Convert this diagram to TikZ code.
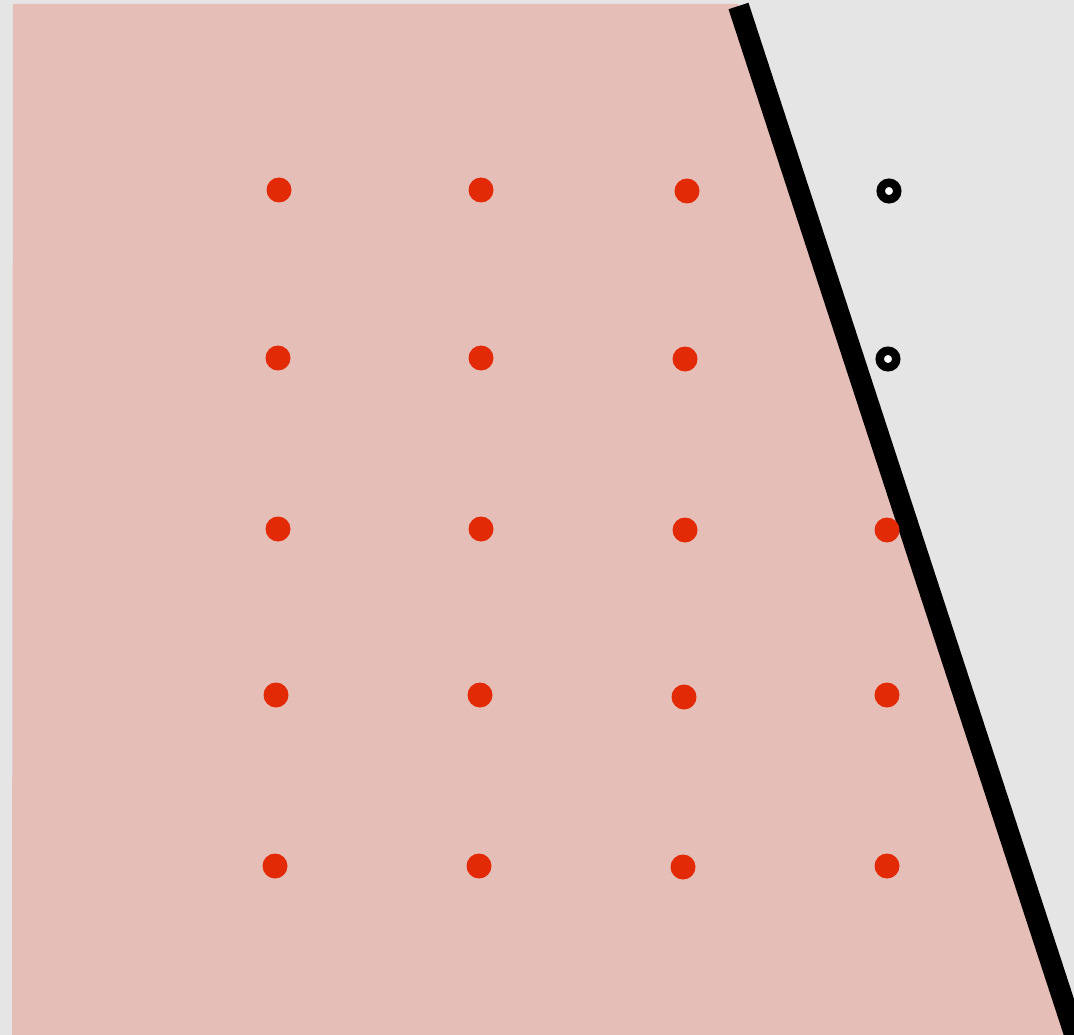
\documentclass[tikz,border=0pt]{standalone}
\definecolor{bgc}{HTML}{E5E5E5}
\definecolor{pinkc}{HTML}{E6BEB8}
\definecolor{dotc}{HTML}{E32A06}
\tikzset{
  reddot/.style={circle,fill=dotc,inner sep=0pt,minimum size=25pt},
  ring/.style={circle,draw=black,line width=8.5pt,fill=white,inner sep=0pt,minimum size=16.5pt}
}
\begin{document}
\begin{tikzpicture}[x=1pt,y=-1pt]
\fill[bgc] (0,0) rectangle (1074,1035);
\useasboundingbox (0,0) rectangle (1074,1035);
\coordinate (tl) at (13,4);
\coordinate (tr) at (738,4);
\coordinate (br) at (1075,1035);
\coordinate (bl) at (12,1035);
\fill[pinkc] (tl) -- (tr) -- (br) -- (bl) -- cycle;
\coordinate (lt) at (738.5,6);
\coordinate (lb) at (1078,1045);
\draw[line width=21pt] (lt) -- (lb);
\node[reddot] (d11) at (279,190) {};
\node[reddot] (d12) at (481,190) {};
\node[reddot] (d13) at (687,191) {};
\node[reddot] (d21) at (278,358) {};
\node[reddot] (d22) at (481,358) {};
\node[reddot] (d23) at (685,359) {};
\node[reddot] (d31) at (278,529) {};
\node[reddot] (d32) at (481,529) {};
\node[reddot] (d33) at (685,530) {};
\node[reddot] (d34) at (887,530) {};
\node[reddot] (d41) at (276,695) {};
\node[reddot] (d42) at (480,695) {};
\node[reddot] (d43) at (684,697) {};
\node[reddot] (d44) at (887,695) {};
\node[reddot] (d51) at (275,866) {};
\node[reddot] (d52) at (479,866) {};
\node[reddot] (d53) at (683,867) {};
\node[reddot] (d54) at (887,866) {};
\node[ring] (r1) at (889,191) {};
\node[ring] (r2) at (888,359) {};
\end{tikzpicture}
\end{document}
